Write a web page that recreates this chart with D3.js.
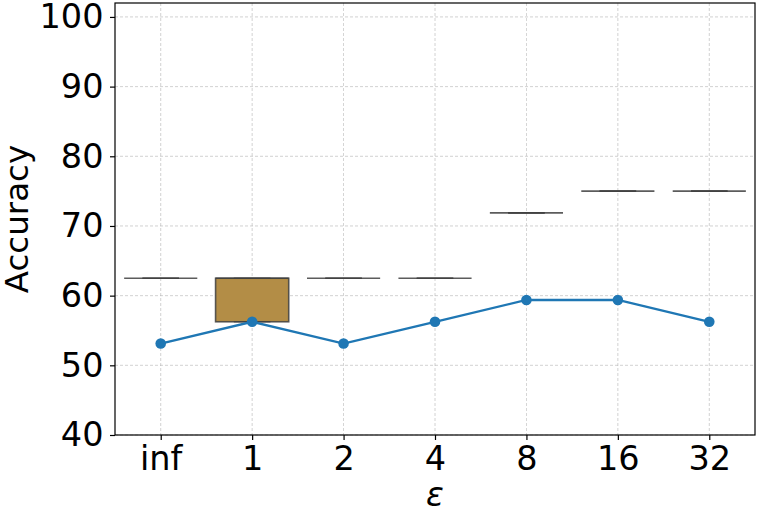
<!DOCTYPE html>
<html>
<head>
<meta charset="utf-8">
<script src="https://cdn.jsdelivr.net/npm/d3@7"></script>
<style>
  body { margin: 0; background: #fff; }
  svg { display: block; font-family: "DejaVu Sans", sans-serif; }
</style>
</head>
<body>
<svg id="chart" width="758" height="519"></svg>
<script>
const categories = ["inf", "1", "2", "4", "8", "16", "32"];
// box stats: [whiskerLow, q1, median, q3, whiskerHigh]
const boxLow    = [62.5, 56.25, 62.5, 62.5, 71.875, 75, 75];
const boxQ1     = [62.5, 56.25, 62.5, 62.5, 71.875, 75, 75];
const boxMedian = [62.5, 62.5, 62.5, 62.5, 71.875, 75, 75];
const boxQ3     = [62.5, 62.5, 62.5, 62.5, 71.875, 75, 75];
const boxHigh   = [62.5, 62.5, 62.5, 62.5, 71.875, 75, 75];
const lineValues = [53.125, 56.25, 53.125, 56.25, 59.375, 59.375, 56.25];
const yTicks = [40, 50, 60, 70, 80, 90, 100];

const svg = d3.select("#chart");
const L = 115, R = 755, T = 3, B = 435;

const x = d3.scaleLinear().domain([-0.5, 6.5]).range([L, R]);
const y = d3.scaleLinear().domain([40, 102]).range([B, T]);

// grid
const grid = svg.append("g");
grid.selectAll("line.gx").data(categories).enter().append("line")
  .attr("x1", (d, i) => x(i)).attr("x2", (d, i) => x(i))
  .attr("y1", T).attr("y2", B)
  .attr("stroke", "#b0b0b0").attr("stroke-width", 0.8)
  .attr("stroke-dasharray", "3,2").attr("opacity", 0.7);
grid.selectAll("line.gy").data(yTicks).enter().append("line")
  .attr("x1", L).attr("x2", R)
  .attr("y1", d => y(d)).attr("y2", d => y(d))
  .attr("stroke", "#b0b0b0").attr("stroke-width", 0.8)
  .attr("stroke-dasharray", "3,2").attr("opacity", 0.7);

// boxes
const bw = 0.8, cw = 0.4;
const edge = "#3f3f3f";
const boxes = svg.append("g");
categories.forEach((c, i) => {
  const g = boxes.append("g");
  g.append("line").attr("x1", x(i)).attr("x2", x(i))
    .attr("y1", y(boxLow[i])).attr("y2", y(boxQ1[i]))
    .attr("stroke", edge).attr("stroke-width", 1.5);
  g.append("line").attr("x1", x(i)).attr("x2", x(i))
    .attr("y1", y(boxQ3[i])).attr("y2", y(boxHigh[i]))
    .attr("stroke", edge).attr("stroke-width", 1.5);
  g.append("rect")
    .attr("x", x(i - bw / 2)).attr("width", x(i + bw / 2) - x(i - bw / 2))
    .attr("y", y(boxQ3[i])).attr("height", Math.max(0, y(boxQ1[i]) - y(boxQ3[i])))
    .attr("fill", "#b38d46").attr("stroke", edge).attr("stroke-width", 1.6)
    .attr("stroke-opacity", 0.85);
  g.append("line").attr("x1", x(i - bw / 2)).attr("x2", x(i + bw / 2))
    .attr("y1", y(boxMedian[i])).attr("y2", y(boxMedian[i]))
    .attr("stroke", edge).attr("stroke-width", 1.6).attr("stroke-opacity", 0.85);
  [boxLow[i], boxHigh[i]].forEach(v => {
    g.append("line").attr("x1", x(i - cw / 2)).attr("x2", x(i + cw / 2))
      .attr("y1", y(v)).attr("y2", y(v))
      .attr("stroke", edge).attr("stroke-width", 1.6).attr("stroke-opacity", 0.7);
  });
});

// line
const line = d3.line().x((d, i) => x(i)).y(d => y(d));
svg.append("path").datum(lineValues).attr("d", line)
  .attr("fill", "none").attr("stroke", "#1f77b4").attr("stroke-width", 2.3);
svg.selectAll("circle.pt").data(lineValues).enter().append("circle")
  .attr("cx", (d, i) => x(i)).attr("cy", d => y(d)).attr("r", 5.3)
  .attr("fill", "#1f77b4");

// axes
const xAxis = d3.axisBottom(x).tickValues(d3.range(categories.length))
  .tickFormat(i => categories[i]).tickSize(5).tickPadding(6);
const gx = svg.append("g").attr("transform", `translate(0,${B})`).call(xAxis);
gx.select(".domain").remove();
gx.selectAll("text").attr("font-size", "33.5px").attr("fill", "#000")
  .attr("font-family", "DejaVu Sans");
gx.selectAll("line").attr("stroke", "#000").attr("stroke-width", 1.2);

const yAxis = d3.axisLeft(y).tickValues(yTicks).tickSize(5).tickPadding(6.5);
const gy = svg.append("g").attr("transform", `translate(${L},0)`).call(yAxis);
gy.select(".domain").remove();
gy.selectAll("text").attr("font-size", "33.5px").attr("fill", "#000")
  .attr("font-family", "DejaVu Sans");
gy.selectAll("line").attr("stroke", "#000").attr("stroke-width", 1.2);

// frame
svg.append("rect").attr("x", L).attr("y", T).attr("width", R - L).attr("height", B - T)
  .attr("fill", "none").attr("stroke", "#000").attr("stroke-width", 1.2);

// labels
svg.append("text").attr("transform", `translate(28,${(T + B) / 2}) rotate(-90)`)
  .attr("text-anchor", "middle").attr("font-size", "32.5px").text("Accuracy");
svg.append("text").attr("x", (L + R) / 2).attr("y", 506)
  .attr("text-anchor", "middle").attr("font-size", "33px")
  .attr("font-style", "italic").text("ε");
</script>
</body>
</html>
